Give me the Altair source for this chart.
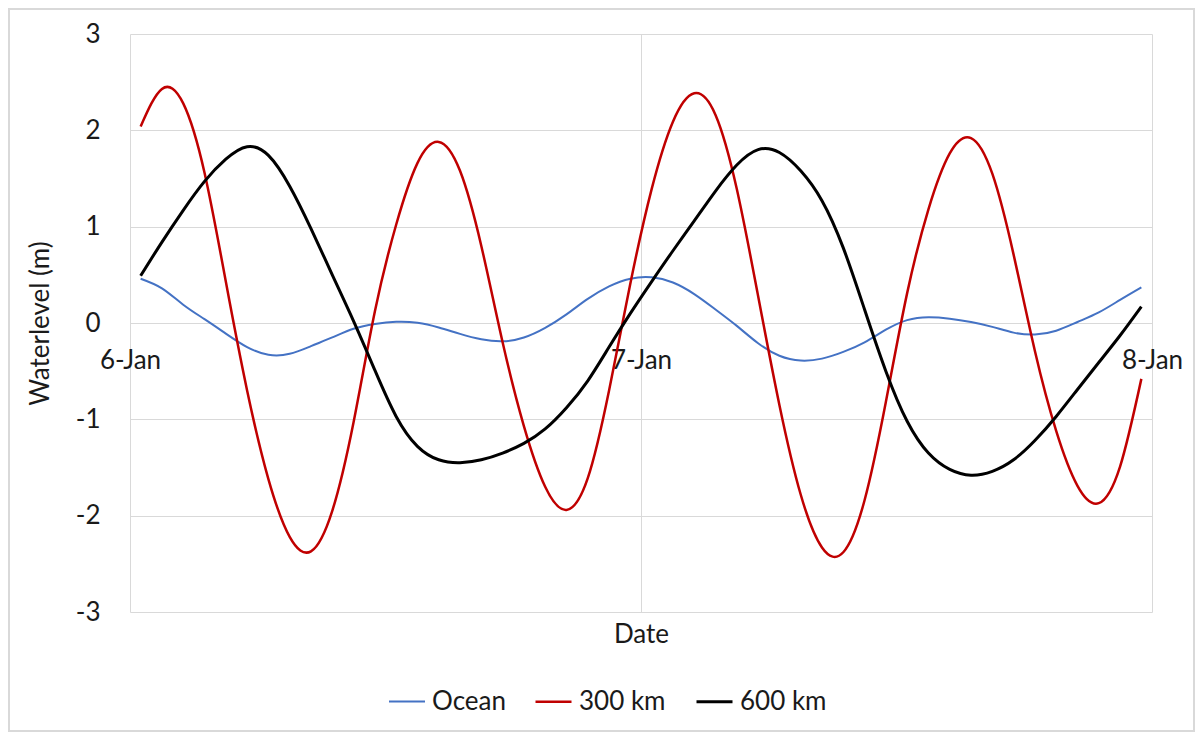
import altair as alt
import pandas as pd

# ---- values, one per hour (hours after 6-Jan 00:00) ----
series_names = ["Ocean", "300 km", "600 km"]
series_colors = ["#4472C4", "#C00000", "#000000"]
series_widths = [2, 3, 3]

hours = [0.5, 1.5, 2.5, 3.5, 4.5, 5.5, 6.5, 7.5, 8.5, 9.5, 10.5, 11.5,
         12.5, 13.5, 14.5, 15.5, 16.5, 17.5, 18.5, 19.5, 20.5, 21.5, 22.5, 23.5,
         24.5, 25.5, 26.5, 27.5, 28.5, 29.5, 30.5, 31.5, 32.5, 33.5, 34.5, 35.5,
         36.5, 37.5, 38.5, 39.5, 40.5, 41.5, 42.5, 43.5, 44.5, 45.5, 46.5, 47.5]

ocean = [0.46, 0.36, 0.19, 0.04, -0.11, -0.25, -0.33, -0.32, -0.24, -0.15, -0.06, -0.01,
         0.013, 0.003, -0.046, -0.113, -0.169, -0.19, -0.15, -0.05, 0.09, 0.25, 0.38, 0.46,
         0.475, 0.42, 0.30, 0.14, -0.03, -0.21, -0.34, -0.39, -0.37, -0.30, -0.20, -0.07,
         0.03, 0.06, 0.045, 0.01, -0.04, -0.10, -0.12, -0.08, 0.01, 0.11, 0.24, 0.37]

km300 = [2.04, 2.43, 2.28, 1.56, 0.43, -0.70, -1.62, -2.22, -2.37, -1.95, -1.03, 0.12,
         1.02, 1.66, 1.88, 1.58, 0.80, -0.20, -1.07, -1.70, -1.94, -1.61, -0.70, 0.41,
         1.39, 2.09, 2.385, 2.16, 1.39, 0.28, -0.85, -1.78, -2.33, -2.38, -1.84, -0.82,
         0.31, 1.18, 1.76, 1.92, 1.55, 0.71, -0.29, -1.12, -1.69, -1.87, -1.49, -0.58]

km600 = [0.49, 0.84, 1.17, 1.47, 1.70, 1.83, 1.74, 1.42, 0.98, 0.50, 0.02, -0.49,
         -0.97, -1.28, -1.42, -1.45, -1.42, -1.35, -1.25, -1.10, -0.88, -0.60, -0.25, 0.10,
         0.43, 0.75, 1.06, 1.37, 1.64, 1.80, 1.77, 1.58, 1.27, 0.78, 0.14, -0.50,
         -1.02, -1.35, -1.52, -1.58, -1.54, -1.42, -1.22, -0.97, -0.69, -0.41, -0.13, 0.17]

tick_hours = [0, 24, 48]
tick_labels = ["6-Jan", "7-Jan", "8-Jan"]
y_ticks = [-3, -2, -1, 0, 1, 2, 3]

rows = []
for name, vs in zip(series_names, [ocean, km300, km600]):
    for t, v in zip(hours, vs):
        rows.append({"series": name, "hour": t, "level": v})
df = pd.DataFrame(rows)

FONT = "Lato"
FS = 26
GRID = "#d9d9d9"
TXT = "#1a1a1a"

W, H = 1022, 578
label_expr = "[" + ",".join("'%s'" % s for s in tick_labels) + "][round(datum.value/24)]"
y_label_expr = "datum.value < 0 ? '-' + abs(datum.value) : '' + datum.value"

lines = alt.Chart(df).mark_line(interpolate="natural").encode(
    x=alt.X("hour:Q",
            scale=alt.Scale(domain=[0, 48], nice=False, zero=False),
            axis=alt.Axis(values=tick_hours, labelExpr=label_expr, offset=-289,
                          grid=True, gridColor=GRID, gridWidth=1,
                          domain=True, domainColor=GRID, domainWidth=1,
                          ticks=False, labelFont=FONT, labelFontSize=FS, labelColor=TXT,
                          labelBaseline="middle", labelPadding=37, labelFlush=False,
                          labelOverlap=False, labelBound=False,
                          title="Date", titleFont=FONT, titleFontSize=FS,
                          titleFontWeight="normal", titleColor=TXT,
                          titleBaseline="middle", titleY=311)),
    y=alt.Y("level:Q",
            scale=alt.Scale(domain=[-3, 3], nice=False),
            axis=alt.Axis(values=y_ticks, labelExpr=y_label_expr,
                          grid=True, gridColor=GRID, gridWidth=1,
                          domain=False, ticks=False, labelFont=FONT, labelFontSize=FS,
                          labelColor=TXT, labelPadding=30,
                          title="Waterlevel (m)", titleFont=FONT, titleFontSize=FS,
                          titleFontWeight="normal", titleColor=TXT,
                          titleX=-90, titleY=289, titleAlign="center",
                          titleBaseline="middle", titleAngle=-90)),
    color=alt.Color("series:N",
                    scale=alt.Scale(domain=series_names, range=series_colors),
                    legend=alt.Legend(title=None, orient="none", direction="horizontal",
                                      legendX=258, legendY=648,
                                      symbolType="stroke", symbolSize=1296,
                                      symbolStrokeWidth=3, labelFont=FONT,
                                      labelFontSize=FS, labelColor=TXT, labelOffset=6,
                                      columnPadding=24)),
    strokeWidth=alt.StrokeWidth("series:N",
                                scale=alt.Scale(domain=series_names, range=series_widths),
                                legend=None),
    order="hour:Q",
)

frame = alt.Chart(df).mark_rect(fill=None, stroke=GRID, strokeWidth=1.5).encode(
    x=alt.value(-121), x2=alt.value(1064), y=alt.value(-25), y2=alt.value(697)
)

chart = alt.layer(frame, lines).properties(
    width=W, height=H,
    autosize=alt.AutoSizeParams(type="none"),
    padding={"left": 122, "top": 26, "right": 43, "bottom": 120},
).configure_view(stroke=None)

chart.save("out.html", embed_options={"renderer": "svg", "actions": False})
